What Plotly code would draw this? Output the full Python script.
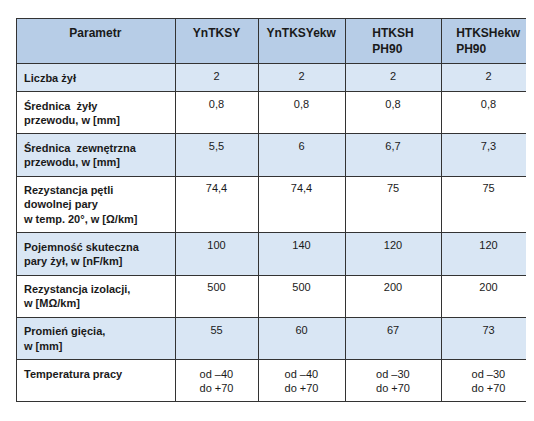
import plotly.graph_objects as go

headers = ["Parametr", "YnTKSY", "YnTKSYekw", "HTKSH<br>PH90", "HTKSHekw<br>PH90"]
params = ["Liczba żył", "Średnica  żyły<br>przewodu, w [mm]", "Średnica  zewnętrzna<br>przewodu, w [mm]",
          "Rezystancja pętli<br>dowolnej pary<br>w temp. 20°, w [Ω/km]", "Pojemność skuteczna<br>pary żył, w [nF/km]",
          "Rezystancja izolacji,<br>w [MΩ/km]", "Promień gięcia,<br>w [mm]", "Temperatura pracy"]
ynt = ["2", "0,8", "5,5", "74,4", "100", "500", "55", "od –40<br>do +70"]
ynte = ["2", "0,8", "6", "74,4", "140", "500", "60", "od –40<br>do +70"]
htk = ["2", "0,8", "6,7", "75", "120", "200", "67", "od –30<br>do +70"]
htke = ["2", "0,8", "7,3", "75", "120", "200", "73", "od –30<br>do +70"]

font = "Liberation Sans, Arial, sans-serif"
rowfill = ["#d9e6f4" if i % 2 == 0 else "white" for i in range(len(params))]
bold_params = ["<b>" + p + "</b>" for p in params]

fig = go.Figure(go.Table(
    columnwidth=[159, 83, 87, 96, 95],
    header=dict(values=["<b>" + h + "</b>" for h in headers],
                fill_color="#b7cde7", line_color="#333333", line_width=1,
                align="center", height=40,
                font=dict(family=font, size=12, color="#1a1a1a")),
    cells=dict(values=[bold_params, ynt, ynte, htk, htke],
               fill_color=[rowfill] * 5, line_color="#333333", line_width=1,
               align=["left", "center", "center", "center", "center"], height=24,
               font=dict(family=font, size=11, color="#1a1a1a")),
))
fig.update_layout(width=534, height=421, margin=dict(l=8, r=6, t=10, b=0),
                  paper_bgcolor="white")
fig.write_html("out.html")
